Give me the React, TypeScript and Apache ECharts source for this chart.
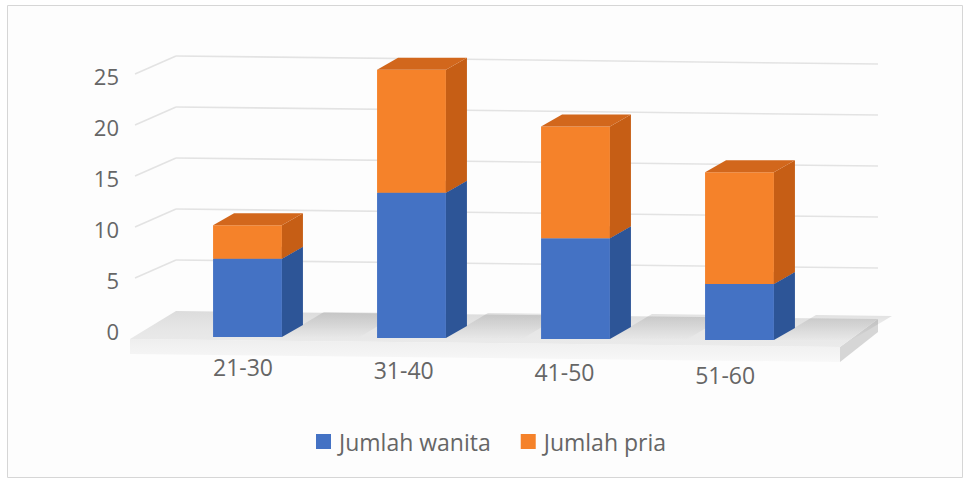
import { useEffect, useRef } from "react";
import * as echarts from "echarts";

const categories = ["21-30", "31-40", "41-50", "51-60"];
const wanita = [7, 13, 9, 5];
const pria = [3, 11, 10, 10];
const valueTicks = [0, 5, 10, 15, 20, 25];
const seriesNames = ["Jumlah wanita", "Jumlah pria"];

// pseudo-3D geometry (pixels)
const DEPTH_X = 21;
const DEPTH_Y = 12;
const SLANT = 0.006;
const FIRST_CX = 248;
const FONT = "Open Sans";
const TEXT_COLOR = "#666666";

const COLORS = {
  wanita: { front: "#4472c4", side: "#2d5597", top: "#3a66b3" },
  pria: { front: "#f5822a", side: "#c65e15", top: "#d2671c" },
};

function barRenderer(palette: { front: string; side: string; top: string }, withShadow: boolean) {
  return (params: any, api: any) => {
    const idx = api.value(0);
    const lo = api.value(1);
    const hi = api.value(2);
    const pLo = api.coord([idx, lo]);
    const pHi = api.coord([idx, hi]);
    const cx = pLo[0];
    const w = api.size([1, 0])[0] * 0.42;
    const s = (cx - FIRST_CX) * SLANT;
    const x0 = cx - w / 2 - 0.5;
    const x1 = x0 + w;
    const yLo = pLo[1] + s;
    const yHi = pHi[1] + s;
    const children: any[] = [];
    if (withShadow) {
      // soft shadow falling back and to the right on the floor
      children.push({
        type: "polygon",
        shape: {
          points: [
            [x1, yLo],
            [x1 + 42, yLo - 25],
            [x1 + 118, yLo - 24],
            [x1 + 76, yLo + 1],
          ],
        },
        style: {
          fill: new echarts.graphic.LinearGradient(0, 0, 0, 1, [
            { offset: 0, color: "rgba(0,0,0,0.11)" },
            { offset: 0.6, color: "rgba(0,0,0,0.05)" },
            { offset: 1, color: "rgba(0,0,0,0.0)" },
          ]),
        },
      });
    }
    children.push(
      {
        type: "rect",
        shape: { x: x0, y: yHi, width: w, height: yLo - yHi },
        style: { fill: palette.front },
      },
      {
        type: "polygon",
        shape: {
          points: [
            [x1, yLo],
            [x1 + DEPTH_X, yLo - DEPTH_Y],
            [x1 + DEPTH_X, yHi - DEPTH_Y],
            [x1, yHi],
          ],
        },
        style: { fill: palette.side },
      },
      {
        type: "polygon",
        shape: {
          points: [
            [x0, yHi],
            [x1, yHi],
            [x1 + DEPTH_X, yHi - DEPTH_Y],
            [x0 + DEPTH_X, yHi - DEPTH_Y],
          ],
        },
        style: { fill: palette.top },
      }
    );
    return { type: "group", children };
  };
}

function wallRenderer(params: any, api: any) {
  const v = api.value(1);
  const p = api.coord([0, v]);
  const lx = p[0];
  const ly = p[1];
  const wallLeft = lx + 49;
  const wallRight = lx + 751;
  const backY = ly - 20;
  const lineStyle = { stroke: "#e3e3e3", lineWidth: 1.6 };
  if (v === 0) {
    const bl = [wallLeft, backY];
    const br = [wallRight, backY + 8];
    const fr = [wallRight - 38, backY + 36];
    const fl = [wallLeft - 46, backY + 28];
    return {
      type: "group",
      children: [
        {
          type: "polygon",
          shape: { points: [fl, fr, [fr[0], fr[1] + 15], [fl[0], fl[1] + 15]] },
          style: {
            fill: new echarts.graphic.LinearGradient(0, 0, 0, 1, [
              { offset: 0, color: "#eeeeee" },
              { offset: 1, color: "#f8f8f8" },
            ]),
          },
        },
        {
          type: "polygon",
          shape: { points: [fr, br, [br[0], br[1] + 13], [fr[0], fr[1] + 15]] },
          style: { fill: "#d6d6d6" },
        },
        {
          type: "polygon",
          shape: { points: [bl, br, fr, fl] },
          style: {
            fill: new echarts.graphic.LinearGradient(0, 0, 0, 1, [
              { offset: 0, color: "#dcdcdc" },
              { offset: 0.5, color: "#e6e6e6" },
              { offset: 1, color: "#ebebeb" },
            ]),
          },
        },
      ],
    };
  }
  return {
    type: "group",
    children: [
      {
        type: "line",
        shape: { x1: lx + 8, y1: ly - 2, x2: wallLeft, y2: backY },
        style: lineStyle,
      },
      {
        type: "line",
        shape: { x1: wallLeft, y1: backY, x2: wallRight, y2: backY + 8 },
        style: lineStyle,
      },
    ],
  };
}

function labelRenderer(params: any, api: any) {
  const idx = api.value(0);
  const p = api.coord([idx, 0]);
  const cx = p[0];
  const d = cx - FIRST_CX;
  return {
    type: "text",
    x: cx - 5 - d * 0.02,
    y: p[1] + 30 + d * 0.016,
    style: {
      text: categories[idx],
      fill: TEXT_COLOR,
      font: `23px "${FONT}"`,
      align: "center",
      verticalAlign: "middle",
    },
  };
}

export default function App() {
  const ref = useRef<HTMLDivElement>(null);

  useEffect(() => {
    if (!ref.current) return;
    const chart = echarts.init(ref.current, undefined, { renderer: "svg" });
    const stackTop = wanita.map((w, i) => w + pria[i]);
    chart.setOption({
      animation: false,
      backgroundColor: "#ffffff",
      graphic: [
        {
          type: "rect",
          z: -10,
          shape: { x: 7.5, y: 5.5, width: 955, height: 472 },
          style: { fill: "#fdfdfd", stroke: "#d6d6d6", lineWidth: 1 },
        },
      ],
      grid: [
        { left: 166, width: 656, top: 57.5, bottom: 143 },
        { left: 127, width: 751, top: 76, bottom: 149 },
      ],
      xAxis: [
        { type: "category", data: categories, gridIndex: 0, show: false },
        { type: "value", min: 0, max: 1, gridIndex: 1, show: false },
      ],
      yAxis: [
        { type: "value", min: 0, max: 25, interval: 5, gridIndex: 0, show: false },
        {
          type: "value",
          min: 0,
          max: 25,
          interval: 5,
          gridIndex: 1,
          axisLine: { show: false },
          axisTick: { show: false },
          splitLine: { show: false },
          axisLabel: { margin: 8, color: TEXT_COLOR, fontSize: 22, fontFamily: FONT },
        },
      ],
      legend: {
        data: seriesNames.map((n) => ({ name: n, icon: "rect" })),
        left: 311,
        top: 425,
        itemWidth: 15,
        itemHeight: 15,
        itemGap: 30,
        textStyle: { color: TEXT_COLOR, fontSize: 23, fontFamily: FONT, padding: [0, 0, 0, 3] },
      },
      series: [
        {
          type: "custom",
          name: "walls",
          xAxisIndex: 1,
          yAxisIndex: 1,
          z: 1,
          silent: true,
          clip: false,
          data: valueTicks.map((v) => [0, v]),
          renderItem: wallRenderer,
        },
        {
          type: "custom",
          name: seriesNames[0],
          xAxisIndex: 0,
          yAxisIndex: 0,
          z: 3,
          clip: false,
          itemStyle: { color: COLORS.wanita.front },
          encode: { x: 0, y: [1, 2] },
          data: categories.map((_, i) => [i, 0, wanita[i]]),
          renderItem: barRenderer(COLORS.wanita, true),
        },
        {
          type: "custom",
          name: seriesNames[1],
          xAxisIndex: 0,
          yAxisIndex: 0,
          z: 4,
          clip: false,
          itemStyle: { color: COLORS.pria.front },
          encode: { x: 0, y: [1, 2] },
          data: categories.map((_, i) => [i, wanita[i], stackTop[i]]),
          renderItem: barRenderer(COLORS.pria, false),
        },
        {
          type: "custom",
          name: "categoryLabels",
          xAxisIndex: 0,
          yAxisIndex: 0,
          z: 2,
          silent: true,
          clip: false,
          data: categories.map((_, i) => [i, 0]),
          renderItem: labelRenderer,
        },
      ],
    });
    return () => chart.dispose();
  }, []);

  return (
    <div
      ref={ref}
      style={{ position: "absolute", left: 0, top: 0, width: 965, height: 480 }}
    />
  );
}
